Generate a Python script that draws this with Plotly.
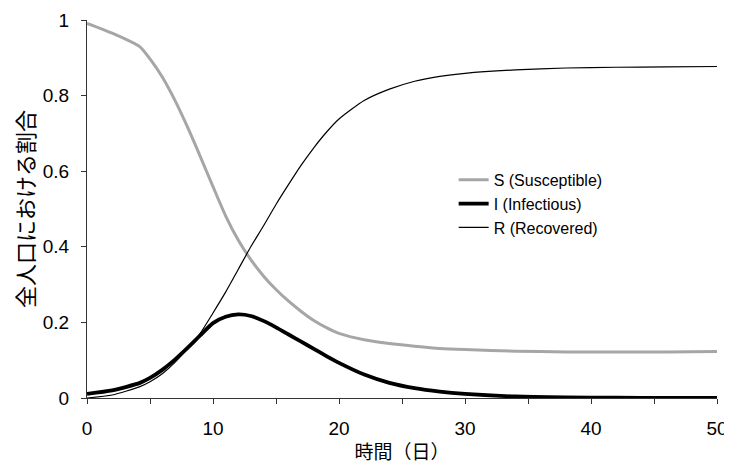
import plotly.graph_objects as go

# time (days)
days = [0, 2, 4.2, 5, 6, 7, 8, 9, 10, 11, 12, 13, 14, 15, 16, 17, 18, 19, 20,
        22, 24, 26, 28, 30, 34, 38, 42, 46, 50]

susceptible = [0.991, 0.965, 0.929, 0.897, 0.848, 0.786, 0.715, 0.638, 0.559, 0.482,
               0.418, 0.366, 0.323, 0.287, 0.256, 0.229, 0.205, 0.186, 0.171,
               0.154, 0.144, 0.137, 0.131, 0.128, 0.124, 0.122, 0.122, 0.122, 0.123]

infectious = [0.011, 0.020, 0.040, 0.053, 0.075, 0.102, 0.133, 0.166, 0.198, 0.215,
              0.221, 0.217, 0.204, 0.187, 0.168, 0.149, 0.130, 0.111, 0.093,
              0.062, 0.040, 0.026, 0.017, 0.011, 0.004, 0.0015, 0.0006, 0.0003, 0.0001]

recovered = [0.000, 0.008, 0.030, 0.043, 0.065, 0.095, 0.132, 0.172, 0.225, 0.280,
             0.340, 0.400, 0.455, 0.512, 0.565, 0.616, 0.662, 0.703, 0.738,
             0.787, 0.817, 0.838, 0.851, 0.859, 0.868, 0.873, 0.875, 0.876, 0.877]

series_names = ["S (Susceptible)", "I (Infectious)", "R (Recovered)"]

x_tickvals = [0, 5, 10, 15, 20, 25, 30, 35, 40, 45, 50]
x_ticktext = ["0", "", "10", "", "20", "", "30", "", "40", "", "50"]
y_tickvals = [0, 0.2, 0.4, 0.6, 0.8, 1]
y_ticktext = ["0", "0.2", "0.4", "0.6", "0.8", "1"]

x_title = "時間（日）"
y_title = "全人口における割合"

fig = go.Figure()
fig.add_trace(go.Scatter(x=days, y=susceptible, name=series_names[0], mode="lines",
                         line=dict(color="#a6a6a6", width=3, shape="spline", smoothing=0.6)))
fig.add_trace(go.Scatter(x=days, y=infectious, name=series_names[1], mode="lines",
                         line=dict(color="#000000", width=3.8, shape="spline", smoothing=0.6)))
fig.add_trace(go.Scatter(x=days, y=recovered, name=series_names[2], mode="lines",
                         line=dict(color="#000000", width=1.2, shape="spline", smoothing=0.6)))

tick_font = dict(family="Liberation Sans, Arial, sans-serif", size=19, color="#000000")

# the page body adds an 8px offset; the figure is sized to fit inside the window
fig.update_layout(
    width=724, height=456,
    margin=dict(l=79, r=15, t=12, b=66),
    paper_bgcolor="white", plot_bgcolor="white",
    showlegend=True,
    legend=dict(x=0.582, y=0.622, xanchor="left", yanchor="top",
                font=dict(family="Liberation Sans, Arial, sans-serif", size=16, color="#000000"),
                bgcolor="rgba(0,0,0,0)", tracegroupgap=0),
    xaxis=dict(range=[0, 50], tickvals=x_tickvals, ticktext=x_ticktext, automargin=False,
               showgrid=False, zeroline=False, showline=True, linecolor="#333333", linewidth=1,
               ticks="outside", ticklen=5, tickcolor="#333333", tickfont=tick_font,
               ticklabelstandoff=8, ticklabeloverflow="allow",
               title=dict(text=x_title, font=dict(family="Noto Sans CJK JP", size=19, color="#000000"),
                          standoff=14)),
    yaxis=dict(range=[0, 1], tickvals=y_tickvals, ticktext=y_ticktext, automargin=False,
               showgrid=False, zeroline=False, showline=True, linecolor="#333333", linewidth=1,
               ticks="outside", ticklen=5, tickcolor="#333333", tickfont=tick_font,
               ticklabelstandoff=8, ticklabeloverflow="allow",
               title=dict(text=y_title, font=dict(family="Noto Sans CJK JP", size=22, color="#000000"),
                          standoff=7)),
)

fig.write_html("out.html")
